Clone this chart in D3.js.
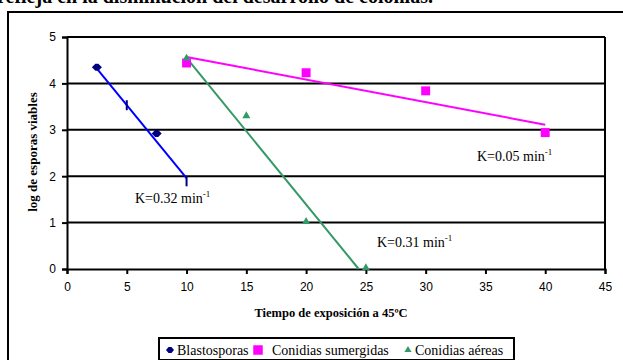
<!DOCTYPE html>
<html>
<head>
<meta charset="utf-8">
<script src="https://cdn.jsdelivr.net/npm/d3@7"></script>
<style>
  body { margin: 0; background: #fff; }
  svg { display: block; }
  .serif { font-family: "Liberation Serif", "Times New Roman", serif; }
  .sans { font-family: "Liberation Sans", Arial, sans-serif; }
</style>
</head>
<body>
<div id="chart"></div>
<script>
// values
const xTicks = [0, 5, 10, 15, 20, 25, 30, 35, 40, 45];
const yTicks = [0, 1, 2, 3, 4, 5];

const blastoX = [2.5, 5, 7.5, 10];
const blastoY = [4.35, 3.53, 2.92, 1.89];
const blastoFit = [[2.5, 4.32], [10, 1.96]];

const sumergX = [10, 20, 30, 40];
const sumergY = [4.44, 4.23, 3.84, 2.94];
const sumergFit = [[10, 4.57], [40, 3.11]];

const aereasX = [10, 15, 20, 25];
const aereasY = [4.52, 3.28, 1.0, 0];
const aereasFit = [[10, 4.55], [24.4, 0]];

const width = 623, height = 360;
const margin = { left: 67, right: 18, top: 37, bottom: 91 };

const svg = d3.select('#chart').append('svg')
    .attr('width', width)
    .attr('height', height);

// bit of the paragraph above the chart, cut by the crop
svg.append('text')
    .attr('class', 'serif')
    .attr('x', -3).attr('y', 3)
    .attr('font-weight', 'bold')
    .attr('font-size', 20)
    .text('refleja en la disminución del desarrollo de colonias.');

// chart box
svg.append('rect')
    .attr('x', 8).attr('y', 12)
    .attr('width', 640).attr('height', 400)
    .attr('fill', 'none')
    .attr('stroke', '#000')
    .attr('stroke-width', 2);

const x = d3.scaleLinear().domain([0, 45]).range([margin.left, width - margin.right]);
const y = d3.scaleLinear().domain([0, 5]).range([height - margin.bottom, margin.top]);

// gridlines
svg.append('g')
    .selectAll('line')
    .data(yTicks.filter(d => d > 0))
    .join('line')
    .attr('x1', x(0)).attr('x2', x(45))
    .attr('y1', d => y(d)).attr('y2', d => y(d))
    .attr('stroke', '#000')
    .attr('stroke-width', 2);

// right border of plot
svg.append('line')
    .attr('x1', x(45)).attr('x2', x(45))
    .attr('y1', y(5)).attr('y2', y(0))
    .attr('stroke', '#000').attr('stroke-width', 2);

const xAxis = svg.append('g')
    .attr('transform', `translate(0,${y(0)})`)
    .call(d3.axisBottom(x).tickValues(xTicks).tickFormat(d3.format('d')).tickSize(5).tickPadding(8));
const yAxis = svg.append('g')
    .attr('transform', `translate(${x(0)},0)`)
    .call(d3.axisLeft(y).tickValues(yTicks).tickFormat(d3.format('d')).tickSize(5).tickPadding(6));

[xAxis, yAxis].forEach(g => {
    g.attr('font-family', null).attr('font-size', null);
    g.select('.domain').attr('stroke', '#000').attr('stroke-width', 2);
    g.selectAll('.tick line').attr('stroke', '#000').attr('stroke-width', 2);
    g.selectAll('.tick text')
        .attr('class', 'sans')
        .attr('font-size', 12)
        .attr('fill', '#000');
});

// axis titles
svg.append('text')
    .attr('class', 'serif')
    .attr('x', 331).attr('y', 317)
    .attr('text-anchor', 'middle')
    .attr('font-weight', 'bold')
    .attr('font-size', 12.5)
    .text('Tiempo de exposición a 45ºC');

svg.append('text')
    .attr('class', 'serif')
    .attr('transform', 'translate(37,152) rotate(-90)')
    .attr('text-anchor', 'middle')
    .attr('font-weight', 'bold')
    .attr('font-size', 13)
    .text('log de esporas viables');

const line = d3.line().x(d => x(d[0])).y(d => y(d[1]));

// trend lines
svg.append('path').datum(blastoFit).attr('d', line)
    .attr('stroke', '#0000ff').attr('stroke-width', 2).attr('fill', 'none');
svg.append('path').datum(sumergFit).attr('d', line)
    .attr('stroke', '#ff00ff').attr('stroke-width', 2).attr('fill', 'none');
svg.append('path').datum(aereasFit).attr('d', line)
    .attr('stroke', '#339966').attr('stroke-width', 2).attr('fill', 'none');

// markers
const square = d3.symbol().type(d3.symbolSquare).size(80);
const triangle = d3.symbol().type(d3.symbolTriangle).size(28);

svg.append('g').selectAll('path')
    .data(blastoX.map((d, i) => [d, blastoY[i]]))
    .join('path')
    .attr('d', (d, i) => i % 2 === 1
        ? 'M-1,-5L1,-5L1,5L-1,5Z'
        : 'M-5,0L-1.5,-3.5L1.5,-3.5L5,0L1.5,3.5L-1.5,3.5Z')
    .attr('transform', d => `translate(${x(d[0])},${y(d[1])})`)
    .attr('fill', '#000080');

svg.append('g').selectAll('path')
    .data(sumergX.map((d, i) => [d, sumergY[i]]))
    .join('path')
    .attr('d', square)
    .attr('transform', d => `translate(${x(d[0])},${y(d[1])})`)
    .attr('fill', '#ff00ff');

svg.append('g').selectAll('path')
    .data(aereasX.map((d, i) => [d, aereasY[i]]))
    .join('path')
    .attr('d', triangle)
    .attr('transform', d => `translate(${x(d[0])},${y(d[1]) - 1})`)
    .attr('fill', '#339966');

// rate labels
const rates = [
    { t: 'K=0.32 min', x: 135, y: 203 },
    { t: 'K=0.05 min', x: 477, y: 161 },
    { t: 'K=0.31 min', x: 377, y: 247 }
];
rates.forEach(r => {
    const t = svg.append('text')
        .attr('class', 'serif')
        .attr('x', r.x).attr('y', r.y)
        .attr('font-size', 14)
        .text(r.t);
    t.append('tspan')
        .attr('dy', -6)
        .attr('font-size', 9)
        .text('-1');
});

// legend
const legend = svg.append('g');
legend.append('rect')
    .attr('x', 159).attr('y', 338)
    .attr('width', 355).attr('height', 22)
    .attr('fill', '#fff')
    .attr('stroke', '#000')
    .attr('stroke-width', 2);

const legendItems = [
    { name: 'Blastosporas', sx: 170, tx: 177, shape: 'M-4,0L-1.5,-3L1.5,-3L4,0L1.5,3L-1.5,3Z', color: '#000080' },
    { name: 'Conidias sumergidas', sx: 258, tx: 272, shape: square.size(90)(), color: '#ff00ff' },
    { name: 'Conidias aéreas', sx: 408, tx: 415, shape: triangle.size(22)(), color: '#339966' }
];
legendItems.forEach(it => {
    legend.append('path')
        .attr('d', it.shape)
        .attr('transform', `translate(${it.sx},350)`)
        .attr('fill', it.color);
    legend.append('text')
        .attr('class', 'serif')
        .attr('x', it.tx).attr('y', 355)
        .attr('font-size', 14)
        .text(it.name);
});
</script>
</body>
</html>
